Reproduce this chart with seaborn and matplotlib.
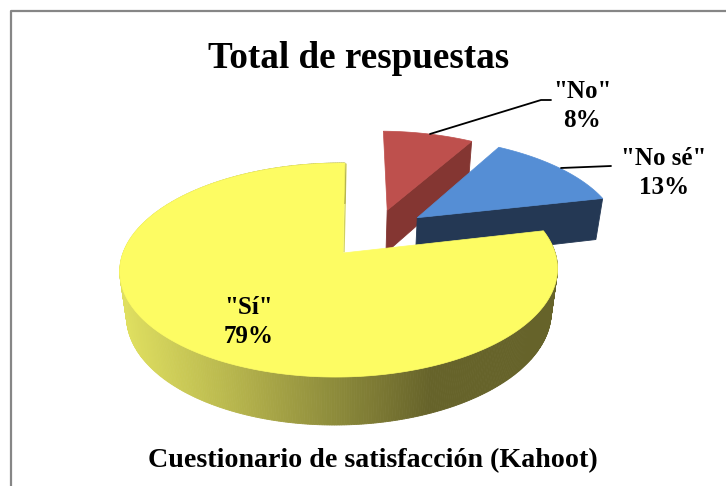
import numpy as np
import matplotlib
matplotlib.use('Agg')
import matplotlib.pyplot as plt
import seaborn as sns

# slices, clockwise from the top of the pie
categories = ['"No"', '"No sé"', '"Sí"']
shares = [8.3, 13.1, 78.6]
top_colors = ['#BE504D', '#558ED5', '#FDFC63']
wall_colors = ['#843632', '#243854', '#66632A']
# how far each slice is pulled out of the pie, in pie radii
pulled_out = [(0.215, 0.44), (0.362, 0.36), (0.0, 0.0)]

title = 'Total de respuestas'
subtitle = 'Cuestionario de satisfacción (Kahoot)'

sns.set_theme(style='white')
plt.rcParams['font.family'] = ['Liberation Serif', 'DejaVu Serif']

# perspective camera for the flat pie
CX, CY = 343, 253
SCALE_X, SCALE_Y = 216, 104.3
TILT, TURN, SKEW = 0.159, 0.018, 2.3
DEPTH_DROP, DEPTH_SHRINK = 45.5, 0.03


def project(u, v, z=0.0):
    w = 1 + TILT * v + TURN * u + DEPTH_SHRINK * z
    return CX + (SCALE_X * u + SKEW * v) / w, CY + (DEPTH_DROP * z - SCALE_Y * v) / w


def rim(angles, offset):
    rad = np.radians(angles)
    return np.cos(rad) + offset[0], np.sin(rad) + offset[1]


def draw_slice(ax, start, end, offset, top, wall, side_palette=None):
    angles = np.linspace(start, end, 500)
    u, v = rim(angles, offset)

    # outer wall only shows on the big slice, shaded left to right
    if side_palette is not None:
        for i in range(len(angles) - 1):
            x0, y0 = project(u[i], v[i])
            x1, y1 = project(u[i + 1], v[i + 1])
            x2, y2 = project(u[i + 1], v[i + 1], 1)
            x3, y3 = project(u[i], v[i], 1)
            pos = np.clip(((x0 + x1) / 2 - 122) / (432 - 122), 0, 1)
            color = side_palette[int(pos * (len(side_palette) - 1))]
            ax.fill([x0, x1, x2, x3], [y0, y1, y2, y3], color=color, lw=0.6, zorder=1)
    else:
        # the cut face looking at the viewer
        x0, y0 = project(offset[0], offset[1])
        x1, y1 = project(u[-1], v[-1])
        x2, y2 = project(u[-1], v[-1], 1)
        x3, y3 = project(offset[0], offset[1], 1)
        ax.fill([x0, x1, x2, x3], [y0, y1, y2, y3], color=wall, lw=0.6, zorder=1)

    # top face
    tx, ty = project(u, v)
    tip_x, tip_y = project(offset[0], offset[1])
    ax.fill(np.r_[tip_x, tx], np.r_[tip_y, ty], color=top, lw=0.5, zorder=1)


fig = plt.figure(figsize=(7.26, 4.86), dpi=100)
ax = fig.add_axes([0, 0, 1, 1])
ax.set_xlim(0, 726)
ax.set_ylim(486, 0)
ax.axis('off')

# frame runs off the right and bottom of the image
ax.plot([11, 11, 726], [486, 11, 11], color='#868686', lw=1.6, zorder=0)

gradient = sns.blend_palette(['#DFDF60', '#B9B84E', '#8F8D3C', '#66632A'], 256)

start = 90.0
for i, share in enumerate(shares):
    end = start - share * 3.6
    if categories[i] == '"Sí"':
        # thin edge of the cut at the top of the big slice
        ax.plot([346, 344], [164, 252], color='#D2D25C', lw=1.0, zorder=1)
        draw_slice(ax, start, end, pulled_out[i], top_colors[i], wall_colors[i], gradient)
    else:
        draw_slice(ax, start, end, pulled_out[i], top_colors[i], wall_colors[i])
    start = end

# leader lines
ax.plot([430, 541, 551], [134, 100, 100], color='black', lw=1.3, zorder=2)
ax.plot([561, 611], [168, 166], color='black', lw=1.3, zorder=2)

text_kw = dict(ha='center', va='center', fontweight='bold', color='black', zorder=3)
ax.text(359, 59, title, fontsize=26.7, **text_kw)
ax.text(372.5, 461, subtitle, fontsize=20.2, **text_kw)

label_pos = [(582, 106), (664, 173), (249, 322)]
for name, share, pos in zip(categories, shares, label_pos):
    ax.text(pos[0], pos[1], f'{name}\n{share:.0f}%', fontsize=18, linespacing=1.32, **text_kw)

fig.savefig('out.png', dpi=100)
